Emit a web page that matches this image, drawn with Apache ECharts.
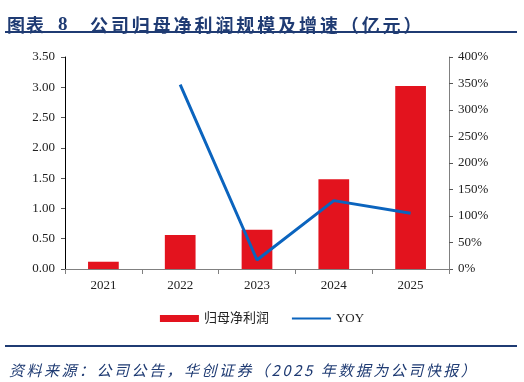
<!DOCTYPE html>
<html><head><meta charset="utf-8">
<script src="https://cdn.jsdelivr.net/npm/echarts@6/dist/echarts.min.js"></script>
<style>html,body{margin:0;padding:0;background:#fff}#c{width:524px;height:382px}</style>
</head><body><div id="c"></div>
<script>
var categories = ['2021','2022','2023','2024','2025'];
var profit = [0.12, 0.56, 0.65, 1.48, 3.02];
var yoy = [null, 348, 17, 129, 105];
var leftTicks = [0, 3.5, 0.5];
var rightTicks = [0, 400, 50];
var titleParts = ['图表', '8', '公司归母净利润规模及增速（亿元）'];
var sourceText = '资料来源：公司公告，华创证券（2025 年数据为公司快报）';

var navy = '#1F3B73';
var serif = '"Liberation Serif","Noto Sans CJK SC",serif';

var cv = document.createElement('canvas').getContext('2d');
function spaced(str, x, y, font, spacing, fill) {
  cv.font = font;
  var out = [];
  for (var i = 0; i < str.length; i++) {
    var ch = str[i];
    out.push({type: 'text', x: x, y: y, style: {text: ch, fill: fill, font: font, textBaseline: 'middle'}});
    x += cv.measureText(ch).width + spacing;
  }
  return out;
}
var tFont = 'bold 18px "Noto Sans CJK SC"';
var graphics = []
  .concat(spaced(titleParts[0], 7, 16, tFont, 1, navy))
  .concat(spaced(titleParts[1], 58, 16, 'bold 19px "Liberation Serif"', 0, navy))
  .concat(spaced(titleParts[2], 90, 16, tFont, 2.9, navy))
  .concat([
    {type: 'rect', shape: {x: 5, y: 31, width: 512, height: 2}, style: {fill: navy}},
    {type: 'rect', shape: {x: 5, y: 345, width: 512, height: 2}, style: {fill: navy}}
  ])
  .concat(spaced(sourceText, 9, 363, 'italic 15px "Noto Sans CJK SC"', 2.5, navy));

var chart = echarts.init(document.getElementById('c'));
chart.setOption({
  animation: false,
  backgroundColor: '#fff',
  grid: {left: 65, right: 75, top: 57, bottom: 113},
  legend: {
    bottom: 52, left: 'center', itemGap: 22,
    textStyle: {fontFamily: serif, fontSize: 13, color: '#222'},
    data: [
      {name: '归母净利润', icon: 'rect', itemStyle: {color: '#E3131E'}},
      {name: 'YOY', itemStyle: {opacity: 0}}
    ],
    itemWidth: 39, itemHeight: 7
  },
  xAxis: {
    type: 'category', data: categories,
    axisLine: {lineStyle: {color: '#808080', width: 1}},
    axisTick: {show: true, length: 5, lineStyle: {color: '#808080'}},
    axisLabel: {fontFamily: serif, fontSize: 13, color: '#222', margin: 10}
  },
  yAxis: [{
    type: 'value', min: leftTicks[0], max: leftTicks[1], interval: leftTicks[2],
    splitLine: {show: false},
    axisLine: {show: true, lineStyle: {color: '#000'}},
    axisTick: {show: true, length: 4, lineStyle: {color: '#555'}},
    axisLabel: {fontFamily: serif, fontSize: 13, color: '#222', margin: 10,
      formatter: function (v) { return v.toFixed(2); }}
  }, {
    type: 'value', min: rightTicks[0], max: rightTicks[1], interval: rightTicks[2],
    splitLine: {show: false},
    axisLine: {show: true, lineStyle: {color: '#808080'}},
    axisTick: {show: true, length: 4, lineStyle: {color: '#555'}},
    axisLabel: {fontFamily: serif, fontSize: 13, color: '#222', margin: 9,
      formatter: function (v) { return v + '%'; }}
  }],
  series: [{
    name: '归母净利润', type: 'bar', data: profit, barWidth: '40%',
    itemStyle: {color: '#E3131E'}
  }, {
    name: 'YOY', type: 'line', yAxisIndex: 1, data: yoy,
    symbol: 'none', connectNulls: false,
    lineStyle: {color: '#0B64BE', width: 3}, itemStyle: {color: '#0B64BE'}
  }],
  graphic: graphics
});
</script></body></html>
